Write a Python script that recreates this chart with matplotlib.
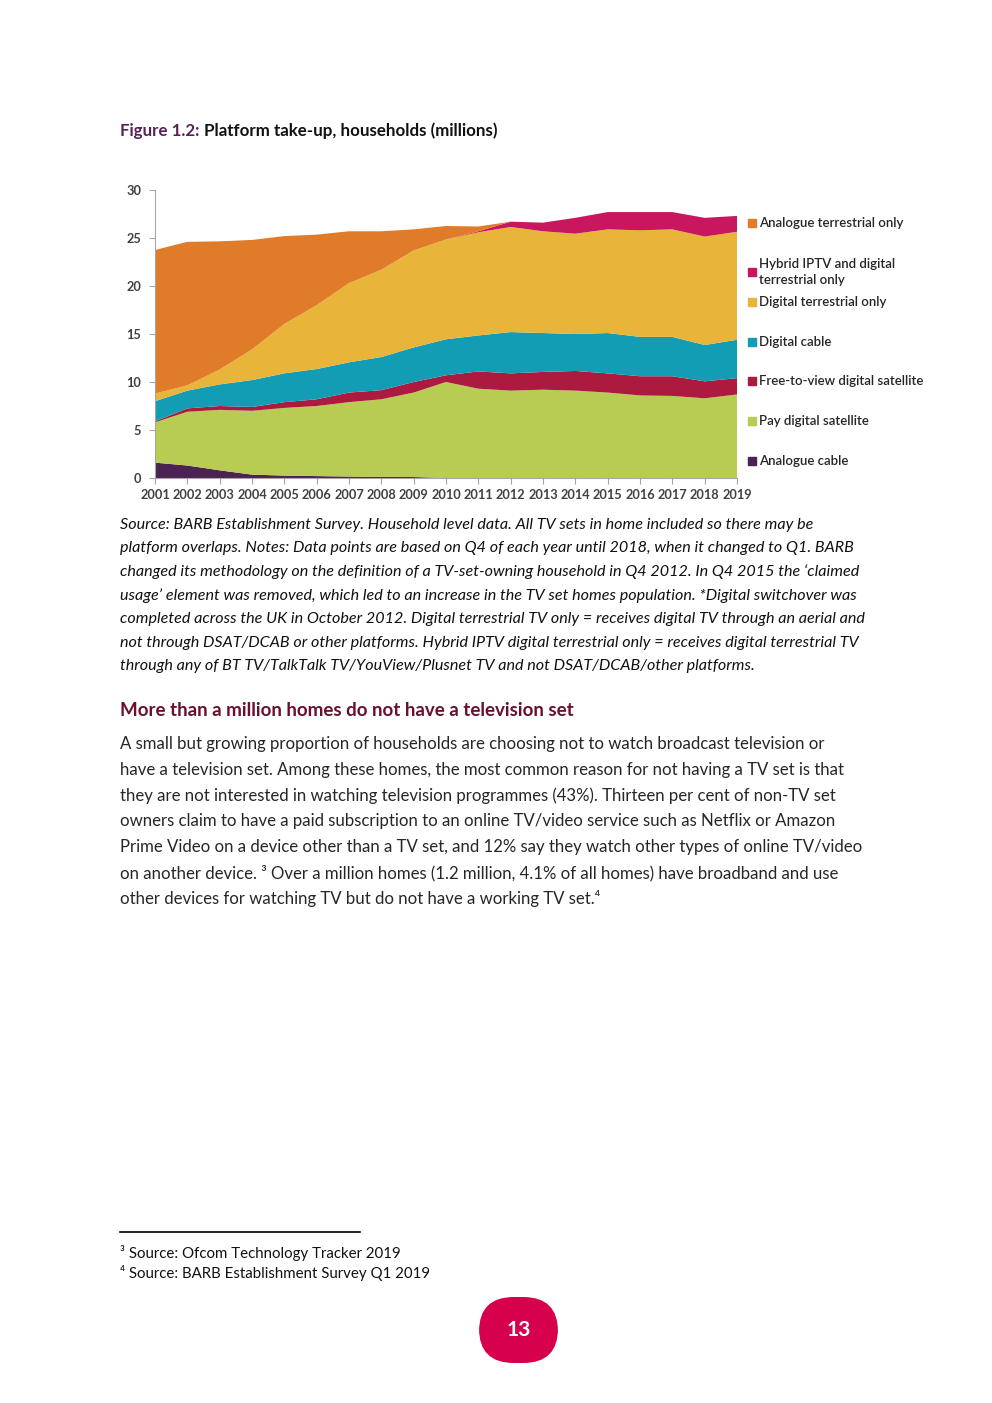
import numpy as np
import matplotlib.pyplot as plt
from matplotlib.patches import Rectangle, FancyBboxPatch
from matplotlib.lines import Line2D

plt.rcParams['font.family'] = ['Lato', 'DejaVu Sans']

# Data (millions of households)
years = list(range(2001, 2020))
analogue_cable = [1.6, 1.3, 0.8, 0.35, 0.25, 0.2, 0.15, 0.12, 0.1, 0, 0, 0, 0, 0, 0, 0, 0, 0, 0]
pay_sat = [4.2, 5.6, 6.3, 6.65, 7.05, 7.3, 7.75, 8.08, 8.8, 10.0, 9.3, 9.1, 9.2, 9.1, 8.9, 8.6, 8.55, 8.3, 8.7]
ftv_sat = [0.1, 0.35, 0.4, 0.4, 0.6, 0.7, 1.0, 0.95, 1.1, 0.7, 1.8, 1.8, 1.85, 2.05, 2.0, 2.0, 2.05, 1.77, 1.7]
digital_cable = [2.1, 1.85, 2.25, 2.8, 3.0, 3.15, 3.15, 3.45, 3.6, 3.75, 3.75, 4.3, 4.05, 3.85, 4.2, 4.1, 4.1, 3.78, 4.0]
dtt_only = [0.8, 0.55, 1.55, 3.2, 5.15, 6.65, 8.25, 9.1, 10.1, 10.4, 10.75, 10.95, 10.6, 10.45, 10.8, 11.1, 11.2, 11.3, 11.25]
hybrid_iptv = [0, 0, 0, 0, 0, 0, 0, 0, 0, 0, 0.1, 0.55, 0.9, 1.65, 1.8, 1.9, 1.8, 1.95, 1.65]
analogue_terr = [14.95, 14.95, 13.35, 11.4, 9.15, 7.35, 5.4, 4.0, 2.2, 1.4, 0.5, 0, 0, 0, 0, 0, 0, 0, 0]

series = [analogue_cable, pay_sat, ftv_sat, digital_cable, dtt_only, hybrid_iptv, analogue_terr]
labels = ['Analogue cable', 'Pay digital satellite', 'Free-to-view digital satellite',
          'Digital cable', 'Digital terrestrial only', 'Hybrid IPTV and digital\nterrestrial only',
          'Analogue terrestrial only']
colors = ['#4B2350', '#B8CB52', '#AC1A3F', '#129DB4', '#E8B53A', '#C8175E', '#E07B2A']

W, H = 992, 1403
fig = plt.figure(figsize=(W / 100, H / 100), dpi=100)

def fy(py):
    return 1 - py / H

def fx(px):
    return px / W

# chart
ax = fig.add_axes([fx(155), fy(478), fx(737) - fx(155), (478 - 190) / H])
ax.stackplot(years, *series, colors=colors, linewidth=0)
ax.set_xlim(2001, 2019)
ax.set_ylim(0, 30)
ax.set_xticks(years)
ax.set_yticks(range(0, 31, 5))
for s in ['top', 'right']:
    ax.spines[s].set_visible(False)
for s in ['left', 'bottom']:
    ax.spines[s].set_color('#A6A6A6')
    ax.spines[s].set_linewidth(0.8)
ax.tick_params(axis='both', colors='#A6A6A6', length=4, width=0.8, labelsize=9.2,
               labelcolor='#404040')
ax.tick_params(axis='x', pad=4)
ax.tick_params(axis='y', pad=6)
for lab in ax.get_xticklabels() + ax.get_yticklabels():
    lab.set_fontweight('bold')

# legend drawn by hand to match the spacing of the original
leg_y = [461, 421, 381, 342, 302, 272, 223]
for lab, col, py in zip(labels, colors, leg_y):
    fig.patches.append(Rectangle((fx(748), fy(py + 4)), 8 / W, 8 / H, color=col,
                                 transform=fig.transFigure, figure=fig))
    fig.text(fx(759), fy(py), lab, fontsize=9.5, color='#262626', va='center',
             ha='left', linespacing=1.3, fontweight='semibold')

# title
t1 = fig.text(fx(120), fy(131), 'Figure 1.2: ', fontsize=12.2, fontweight='bold',
              color='#5A2157', va='center')
fig.canvas.draw()
bb = t1.get_window_extent()
fig.text(bb.x1 / W, fy(131), 'Platform take-up, households (millions)', fontsize=12.2,
         fontweight='bold', color='#111111', va='center')

# source notes
notes = [
    "Source: BARB Establishment Survey. Household level data. All TV sets in home included so there may be",
    "platform overlaps. Notes: Data points are based on Q4 of each year until 2018, when it changed to Q1. BARB",
    "changed its methodology on the definition of a TV-set-owning household in Q4 2012. In Q4 2015 the \u2018claimed",
    "usage\u2019 element was removed, which led to an increase in the TV set homes population. *Digital switchover was",
    "completed across the UK in October 2012. Digital terrestrial TV only = receives digital TV through an aerial and",
    "not through DSAT/DCAB or other platforms. Hybrid IPTV digital terrestrial only = receives digital terrestrial TV",
    "through any of BT TV/TalkTalk TV/YouView/Plusnet TV and not DSAT/DCAB/other platforms.",
]
for i, line in enumerate(notes):
    fig.text(fx(120), fy(525 + i * 23.5), line, fontsize=11.6, style='italic',
             color='#111111', va='center')

# heading
fig.text(fx(120), fy(711), 'More than a million homes do not have a television set',
         fontsize=13.5, fontweight='bold', color='#6B0F2E', va='center')

body = [
    "A small but growing proportion of households are choosing not to watch broadcast television or",
    "have a television set. Among these homes, the most common reason for not having a TV set is that",
    "they are not interested in watching television programmes (43%). Thirteen per cent of non-TV set",
    "owners claim to have a paid subscription to an online TV/video service such as Netflix or Amazon",
    "Prime Video on a device other than a TV set, and 12% say they watch other types of online TV/video",
    "on another device. \u00b3 Over a million homes (1.2 million, 4.1% of all homes) have broadband and use",
    "other devices for watching TV but do not have a working TV set.\u2074",
]
for i, line in enumerate(body):
    fig.text(fx(120), fy(744 + i * 25.8), line, fontsize=12.1, color='#262626', va='center')

# footnotes
fig.lines.append(Line2D([fx(120), fx(360)], [fy(1232), fy(1232)], color='black',
                        linewidth=1.2, transform=fig.transFigure))
fig.text(fx(120), fy(1253), '\u00b3 Source: Ofcom Technology Tracker 2019', fontsize=10.8,
         color='#111111', va='center')
fig.text(fx(120), fy(1273), '\u2074 Source: BARB Establishment Survey Q1 2019', fontsize=10.8,
         color='#111111', va='center')

# page number badge
badge = FancyBboxPatch((fx(479), fy(1363)), 79 / W, 66 / H,
                       boxstyle='round,pad=0,rounding_size=0.035',
                       transform=fig.transFigure, facecolor='#D6004C', edgecolor='none',
                       mutation_aspect=W / H)
fig.patches.append(badge)
fig.text(fx(519), fy(1330), '13', fontsize=15, fontweight='bold', color='white',
         ha='center', va='center')

fig.savefig('out.png', dpi=100)
